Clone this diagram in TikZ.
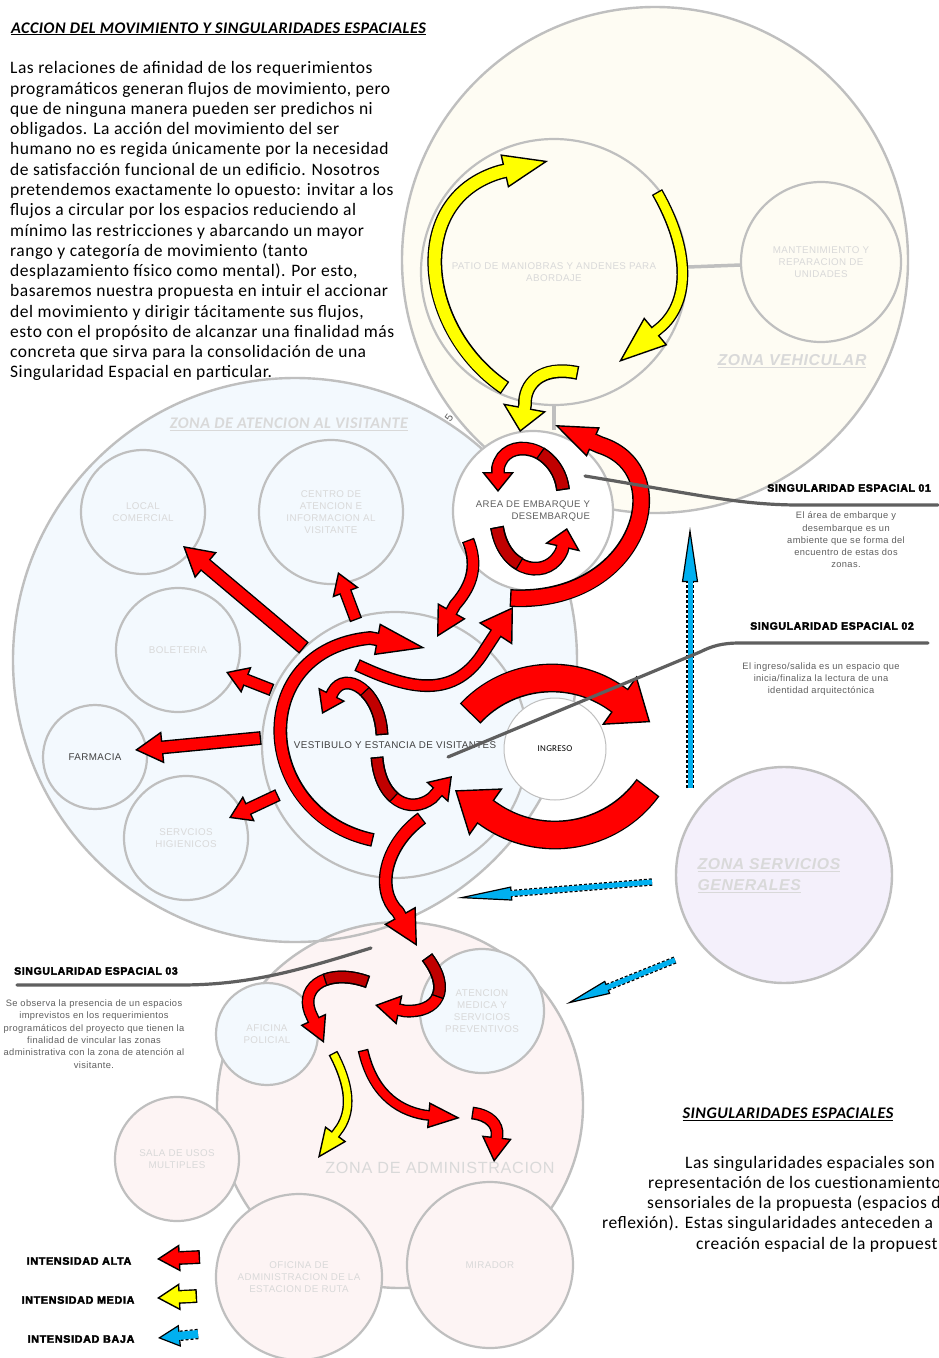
\documentclass[tikz,border=0pt]{standalone}
\usepackage{fontspec}
\setmainfont{Carlito}[LetterSpace=3]
\newfontfamily\arial{Liberation Sans}[LetterSpace=4]
\newfontfamily\gordo{Liberation Sans Bold}[FakeBold=3,LetterSpace=6]
\usetikzlibrary{arrows.meta}

\definecolor{borde}{HTML}{BFBFBF}
\definecolor{crema}{HTML}{FEFCF3}
\definecolor{celeste}{HTML}{F3F9FE}
\definecolor{rosa}{HTML}{FDF4F4}
\definecolor{lila}{HTML}{F4F0FB}
\definecolor{rojo}{HTML}{FF0000}
\definecolor{vino}{HTML}{C00000}
\definecolor{amarillo}{HTML}{FFFF00}
\definecolor{azul}{HTML}{00B0F0}
\definecolor{tenue}{HTML}{D9D9D9}
\definecolor{oscuro}{HTML}{404040}
\definecolor{linea}{HTML}{5F5F5F}

% flecha de bloque: relleno, ancho, largo de punta, abertura, trazo
\newcommand{\flecha}[5]{%
  \draw[line width=#2+2.8, -{Triangle[length=#3pt,width=#4pt,fill=#1,line width=1.4pt]}] #5;
  \draw[#1, line width=#2, shorten <=1.4pt, shorten >=#3pt-3pt] #5;}
% tramo oscuro del giro
\newcommand{\tramo}[3]{%
  \draw[line width=#2+2.8] #3;
  \draw[#1, line width=#2, shorten <=1.4pt, shorten >=1.4pt] #3;}
% flecha de intensidad baja (contorno punteado)
\newcommand{\flechabaja}[4]{%
  \draw[line width=#1+2.4, dash pattern=on 3pt off 2pt, -{Triangle[length=#2pt,width=#3pt,fill=azul,line width=1.2pt]}] #4;
  \draw[azul, line width=#1, shorten >=#2pt-3pt] #4;}

\begin{document}
\begin{tikzpicture}[x=1pt,y=-1pt,
    zona/.style={circle, draw=none, inner sep=0pt, minimum size=#1},
    sala/.style={circle, draw=borde, line width=2.2pt, inner sep=0pt, minimum size=#1,
        align=center, text=tenue, font=\arial\fontsize{9.8}{12.2}\selectfont},
    rotulo/.style={text=tenue, font=\arial\bfseries\itshape\fontsize{15.8}{21}\selectfont},
    titulo/.style={inner sep=0pt, font=\bfseries\itshape\fontsize{16.2}{19}\selectfont},
    texto/.style={inner sep=0pt, font=\fontsize{17.5}{20.27}\selectfont},
    singular/.style={inner sep=0pt, font=\gordo\fontsize{10.5}{12}\selectfont},
    nota/.style={inner sep=0pt, align=center, text=linea, font=\arial\fontsize{9.3}{12.3}\selectfont},
    guia/.style={draw=linea, line width=3.2pt, line cap=round},
    enlace/.style={draw=borde, line width=3.5pt}]
    \fill[white] (0,0) rectangle (938,1358);
    \useasboundingbox (0,0) rectangle (938,1358);

    % zonas
    \node[zona=564, fill=celeste] (visitante) at (295,660) {};
    \node[zona=506, fill=crema] (vehicular) at (655,260) {};
    \node[zona=366, fill=rosa] (admin) at (400,1105) {};
    \node[zona=216, fill=lila] (servicios) at (784,875) {};
    \foreach \n/\r in {visitante/282,vehicular/253,admin/183,servicios/108}
        \draw[borde, line width=2.4pt] (\n) circle[radius=\r];

    % espacios
    \node[sala=266, fill=crema] (patio) at (554,272) {PATIO DE MANIOBRAS Y ANDENES PARA\\ABORDAJE};
    \node[sala=160, fill=crema] (mant) at (821,262) {MANTENIMIENTO Y\\REPARACION DE\\UNIDADES};
    \node[sala=124, fill=celeste] (local) at (143,512) {LOCAL\\COMERCIAL};
    \node[sala=144, fill=celeste] (centro) at (331,512) {CENTRO DE\\ATENCION E\\INFORMACION AL\\VISITANTE};
    \node[sala=124, fill=celeste] (boleteria) at (178,650) {BOLETERIA};
    \node[sala=104, fill=celeste, text=oscuro] (farmacia) at (95,757) {FARMACIA};
    \node[sala=124, fill=celeste] (higienicos) at (186,838) {SERVCIOS\\HIGIENICOS};
    \node[sala=266, fill=celeste, text=oscuro] (vestibulo) at (395,745) {VESTIBULO Y ESTANCIA DE VISITANTES};
    \node[sala=160, fill=white, text=linea, align=right, font=\arial\fontsize{9.6}{12.2}\selectfont] (embarque) at (533,511) {AREA DE EMBARQUE Y\\DESEMBARQUE};
    \node[sala=102, fill=white, line width=1pt, text=black, font=\fontsize{9}{11}\selectfont] (ingreso) at (555,749) {INGRESO};
    \node[sala=102, fill=celeste] (policial) at (267,1034) {AFICINA\\POLICIAL};
    \node[sala=124, fill=celeste] (medica) at (482,1011) {ATENCION\\MEDICA Y\\SERVICIOS\\PREVENTIVOS};
    \node[sala=124, fill=rosa] (multiples) at (177,1159) {SALA DE USOS\\MULTIPLES};
    \node[sala=166, fill=rosa] (oficina) at (299,1277) {OFICINA DE\\ADMINISTRACION DE LA\\ESTACION DE RUTA};
    \node[sala=166, fill=rosa] (mirador) at (490,1265) {MIRADOR};
    \draw[enlace] (patio) -- (mant);
    \draw[enlace] (patio.south) -- (patio.south |- embarque.north);

    % rotulos de zona
    \node[rotulo] (zveh) at (792,361) {\underline{ZONA VEHICULAR}};
    \node[rotulo, font=\bfseries\itshape\fontsize{16.2}{19}\selectfont] (zvis) at (289,424) {\underline{ZONA DE ATENCION AL VISITANTE}};
    \node[rotulo, anchor=west, align=left] (zser) at (694,876) {\underline{ZONA SERVICIOS}\\\underline{GENERALES}};
    \node[text=tenue, font=\arial\fontsize{16.2}{19}\selectfont] (zadm) at (440,1168) {ZONA DE ADMINISTRACION};
    \node[text=linea, font=\arial\fontsize{11}{13}\selectfont, rotate=55] (cinco) at (449,418) {5};

    % intensidad media
    \flecha{amarillo}{12}{45}{34}{(505,388) .. controls (420,330) and (405,200) .. (500,172) -- (548,161)}
    \flecha{amarillo}{9}{48}{36}{(657,192) .. controls (690,250) and (690,300) .. (662,326) -- (619,362)}
    \flecha{amarillo}{11}{25}{44}{(578,373) .. controls (540,365) and (524,385) .. (525,405) -- (520,432)}
    \flecha{amarillo}{7}{30}{26}{(333,1053) .. controls (350,1085) and (352,1110) .. (340,1128) -- (318,1158)}

    % intensidad alta
    \flecha{rojo}{15}{42}{32}{(510,598) .. controls (640,605) and (680,470) .. (600,445) -- (555,425)}
    \flecha{rojo}{11}{20}{32}{(563,490) .. controls (558,445) and (505,435) .. (498,468) -- (498,492)}
    \tramo{vino}{11}{(563,490) .. controls (561,472) and (551,460) .. (540,453)}
    \flecha{rojo}{11}{20}{36}{(497,527) .. controls (505,575) and (550,580) .. (562,550) -- (567,528)}
    \tramo{vino}{11}{(497,527) .. controls (500,546) and (509,558.5) .. (520,564)}
    \flecha{rojo}{10}{30}{32}{(468,540) .. controls (480,570) and (468,590) .. (455,605) -- (437,637)}
    \flecha{rojo}{10}{32}{40}{(357,665) .. controls (410,690) and (455,700) .. (485,650) -- (513,607)}
    \flecha{rojo}{11}{49}{32}{(373,840) .. controls (255,815) and (245,650) .. (370,638) -- (425,648)}
    \flecha{rojo}{10}{22}{30}{(382,735) .. controls (380,690) and (345,670) .. (333,692) -- (322,714)}
    \tramo{vino}{10}{(382,735) .. controls (381.1,714.8) and (373.5,699.6) .. (364.4,691)}
    \flecha{rojo}{10}{22}{30}{(377,757) .. controls (380,800) and (410,815) .. (432,798) -- (452,776)}
    \tramo{vino}{10}{(377,757) .. controls (378.4,776.4) and (385.2,790) .. (394.3,797.7)}
    \flecha{rojo}{26}{38}{60}{(470.1,713.6) arc[start angle=-137, end angle=-55, radius=112] -- ++(34,24)}
    \flecha{rojo}{26}{38}{58}{(648,787.6) arc[start angle=36, end angle=125, radius=115] -- ++(-34,-24)}
    \flecha{rojo}{11}{35}{36}{(422,818) .. controls (385,845) and (375,890) .. (398,912) -- (417,946)}
    \flecha{rojo}{10}{25}{30}{(427,957) .. controls (452,990) and (437,1013) .. (405,1011) -- (375,1005)}
    \tramo{vino}{10}{(427,957) .. controls (439.5,973.5) and (442,987.5) .. (437.4,997.1)}
    \flecha{rojo}{10}{26}{28}{(368,982) .. controls (330,968) and (300,985) .. (310,1012) -- (324,1043)}
    \tramo{vino}{10}{(368,982) .. controls (350.9,975.7) and (335.4,975.7) .. (324.5,980)}
    \flecha{rojo}{8}{32}{26}{(363,1050) .. controls (372,1090) and (395,1110) .. (425,1115) -- (460,1118)}
    \flecha{rojo}{10}{25}{30}{(472,1113) .. controls (490,1115) and (498,1125) .. (497,1135) -- (494,1162)}
    \foreach \xa/\ya/\xb/\yb/\anc/\lar/\abe in
        {304/648/183/546/12/30/34, 356/620/338/572/10/22/28, 272/690/226/672/10/22/28,
         261/738/135/750/11/28/32, 278/795/229/818/10/22/28}
        {\flecha{rojo}{\anc}{\lar}{\abe}{(\xa,\ya) -- (\xb,\yb)}}

    % intensidad baja
    \flechabaja{5}{55}{16}{(690,788) -- (690,527)}
    \flechabaja{5}{55}{14}{(652,882) -- (457,898)}
    \flechabaja{5}{45}{14}{(675,960) -- (566,1004)}

    % singularidades
    \coordinate (g1) at (585,476);
    \coordinate (g1b) at (938,505);
    \draw[guia] (g1) .. controls (700,495) and (740,505) .. (800,505) -- (g1b);
    \coordinate (g2) at (448,757);
    \coordinate (g2b) at (928,643);
    \draw[guia] (g2) -- (700,652) .. controls (712,646) and (722,643) .. (740,643) -- (g2b);
    \coordinate (g3) at (371,948);
    \coordinate (g3b) at (17,985);
    \draw[guia] (g3) .. controls (300,970) and (250,985) .. (180,985) -- (g3b);
    \node[singular, anchor=east] (sing1) at (931,488) {SINGULARIDAD ESPACIAL 01};
    \node[nota] (nota1) at (846,540) {El área de embarque y\\desembarque es un\\ambiente que se forma del\\encuentro de estas dos\\zonas.};
    \node[singular] (sing2) at (832,626) {SINGULARIDAD ESPACIAL 02};
    \node[nota] (nota2) at (821,679) {El ingreso/salida es un espacio que\\inicia/finaliza la lectura de una\\identidad arquitectónica};
    \node[singular, anchor=west] (sing3) at (14,971) {SINGULARIDAD ESPACIAL 03};
    \node[nota] (nota3) at (94,1034) {Se observa la presencia de un espacios\\imprevistos en los requerimientos\\programáticos del proyecto que tienen la\\finalidad de vincular las zonas\\administrativa con la zona de atención al\\visitante.};

    % textos
    \node[titulo, anchor=base west] (titulo) at (11,33) {\underline{ACCION DEL MOVIMIENTO Y SINGULARIDADES ESPACIALES}};
    \node[texto, anchor=north west, align=left] (parrafo) at (10,61.5) {Las relaciones de afinidad de los requerimientos\\
        programáticos generan flujos de movimiento, pero\\
        que de ninguna manera pueden ser predichos ni\\
        obligados. La acción del movimiento del ser\\
        humano no es regida únicamente por la necesidad\\
        de satisfacción funcional de un edificio. Nosotros\\
        pretendemos exactamente lo opuesto: invitar a los\\
        flujos a circular por los espacios reduciendo al\\
        mínimo las restricciones y abarcando un mayor\\
        rango y categoría de movimiento (tanto\\
        desplazamiento físico como mental). Por esto,\\
        basaremos nuestra propuesta en intuir el accionar\\
        del movimiento y dirigir tácitamente sus flujos,\\
        esto con el propósito de alcanzar una finalidad más\\
        concreta que sirva para la consolidación de una\\
        Singularidad Espacial en particular.};
    \node[titulo] (titulo2) at (788,1114) {\underline{SINGULARIDADES ESPACIALES}};
    \node[texto, anchor=base west] (res1) at (685,1168) {Las singularidades espaciales son};
    \node[texto, anchor=base west] (res2) at (648,1188.3) {representación de los cuestionamiento};
    \node[texto, anchor=base west] (res3) at (647,1208.6) {sensoriales de la propuesta (espacios d};
    \node[texto, anchor=base west] (res4) at (602,1228.9) {reflexión). Estas singularidades anteceden a};
    \node[texto, anchor=base west] (res5) at (696,1249.2) {creación espacial de la propuest};

    % leyenda
    \node[singular, font=\gordo\fontsize{10.8}{12}\selectfont] (alta) at (79,1261) {INTENSIDAD ALTA};
    \node[singular, font=\gordo\fontsize{10.8}{12}\selectfont] (media) at (78,1300) {INTENSIDAD MEDIA};
    \node[singular, font=\gordo\fontsize{10.8}{12}\selectfont] (baja) at (81,1339) {INTENSIDAD BAJA};
    \flecha{rojo}{11}{23}{27}{(200,1257) -- (157,1259)}
    \flecha{amarillo}{11}{23}{27}{(197,1296) -- (157,1298)}
    \flechabaja{8}{22}{22}{(198,1334) -- (158,1338)}
\end{tikzpicture}
\end{document}
